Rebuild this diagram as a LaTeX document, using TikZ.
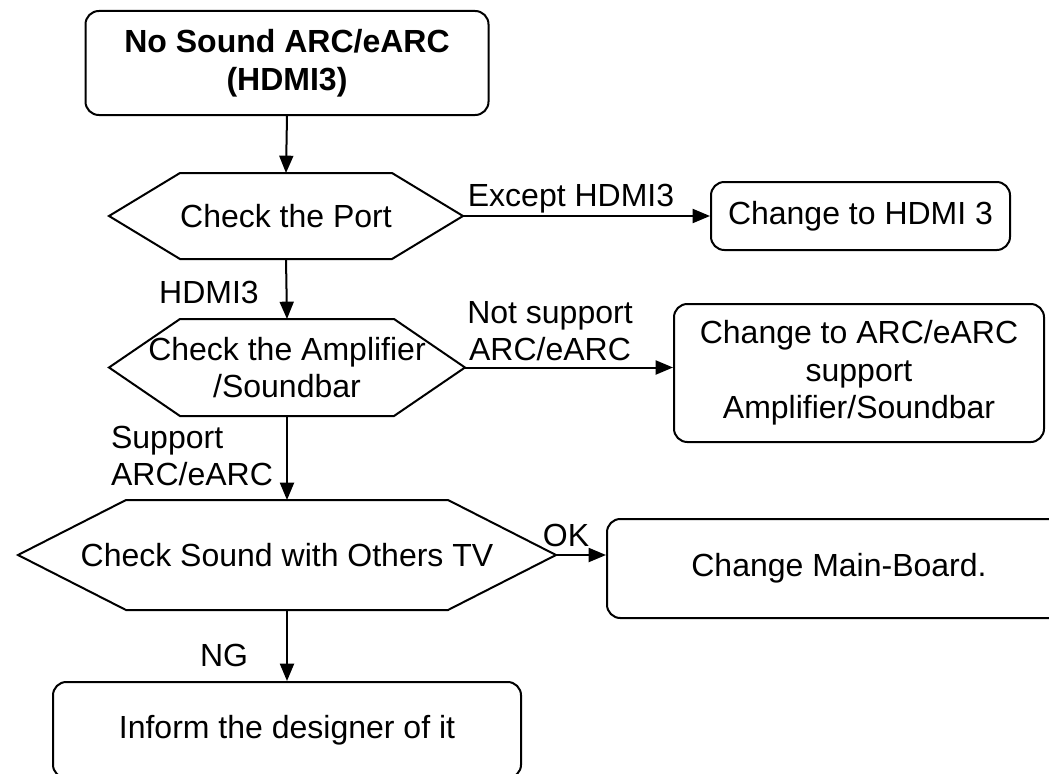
\documentclass[tikz,border=0pt]{standalone}
\usepackage{fontspec}
\setmainfont{Liberation Sans}
\usetikzlibrary{arrows.meta}

% outline of a decision node: #1 node name, #2 slant of the points
\newcommand{\hexoutline}[2]{%
  \draw (#1.west) -- ([xshift=#2]#1.north west) -- ([xshift=-#2]#1.north east)
    -- (#1.east) -- ([xshift=-#2]#1.south east) -- ([xshift=#2]#1.south west) -- cycle;}

\tikzset{
  box/.style={draw, rounded corners=10pt, align=center, inner sep=0pt},
  hexnode/.style={inner sep=0pt, outer sep=0pt, align=center},
  lbl/.style={inner sep=0pt, align=center},
  flow/.style={-{Triangle[length=13pt, width=10.5pt]}}
}

\begin{document}
\begin{tikzpicture}[x=0.75pt, y=-0.75pt, line width=1.5pt, line join=miter,
    font=\fontsize{24}{28}\selectfont]
    \useasboundingbox (0,0) rectangle (1049,774);
    \clip (0,0) rectangle (1049,774);

    % Boxes
    \node[box, minimum width=302.25pt, minimum height=78pt, font=\fontsize{24}{28.5}\selectfont\bfseries] (start) at (287,63) {No Sound ARC/eARC\\(HDMI3)};
    \node[box, minimum width=224.25pt, minimum height=51pt] (tohdmi) at (860.5,216) {Change to HDMI 3};
    \node[box, minimum width=277.5pt, minimum height=103.5pt] (toamp) at (859,373) {Change to ARC/eARC\\support\\Amplifier/Soundbar};
    \node[box, minimum width=348pt, minimum height=74.25pt] (board) at (839,568.5) {Change Main-Board.};
    \node[box, minimum width=351pt, minimum height=72pt] (inform) at (287,730) {Inform the designer of it};

    % Decisions
    \node[hexnode, minimum width=265.5pt, minimum height=64.5pt] (port) at (286,216) {Check the Port};
    \node[hexnode, minimum width=267pt, minimum height=72.75pt] (amp) at (287,367.5) {Check the Amplifier\\/Soundbar};
    \node[hexnode, minimum width=403.5pt, minimum height=82.5pt] (others) at (287,555) {Check Sound with Others TV};
    \hexoutline{port}{53.25pt}
    \hexoutline{amp}{53.25pt}
    \hexoutline{others}{81pt}

    % Labels
    \node[lbl] (lexcept) at (571,199) {Except HDMI3};
    \node[lbl] (lhdmi) at (209,292) {HDMI3};
    \node[lbl] (lnot) at (550,331) {Not support\\ARC/eARC};
    \node[lbl, align=left] (lsupport) at (192,456) {Support\\ARC/eARC};
    \node[lbl] (lok) at (566,535) {OK};
    \node[lbl] (lng) at (224,655) {NG};

    % Arrows
    \draw[flow] (start.south) -- (port.north);
    \draw[flow] (port.east) -- (port.east -| tohdmi.west);
    \draw[flow] (port.south) -- (amp.north);
    \draw[flow] (amp.east) -- (amp.east -| toamp.west);
    \draw[flow] (amp.south) -- (others.north);
    \draw[flow] (others.east) -- (others.east -| board.west);
    \draw[flow] (others.south) -- (inform.north);
\end{tikzpicture}
\end{document}
